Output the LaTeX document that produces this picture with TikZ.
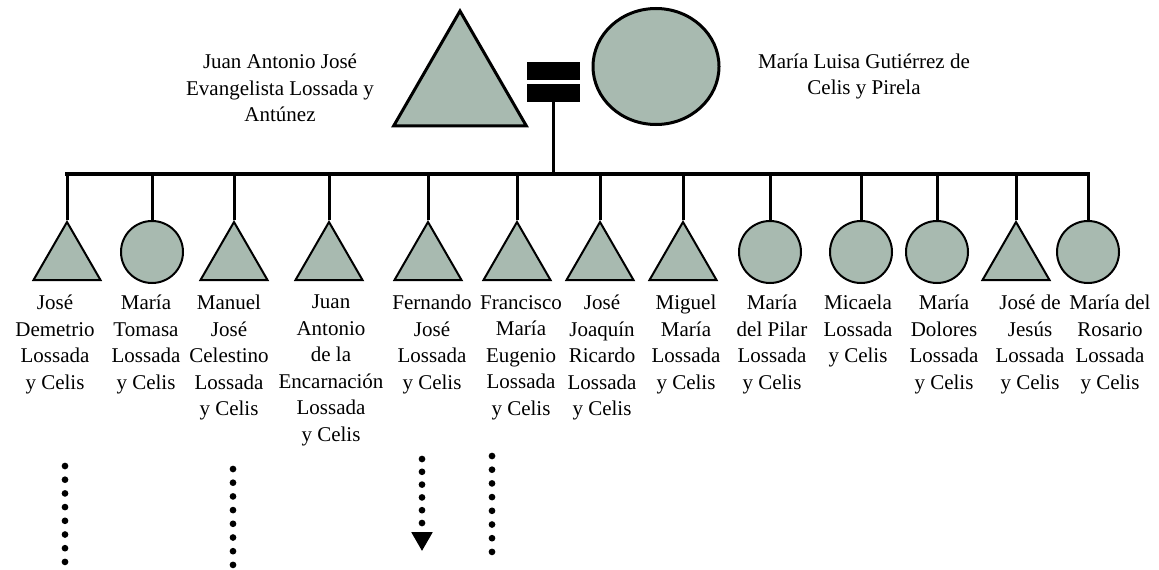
\documentclass[tikz,border=0pt]{standalone}
\usepackage{fontspec}
\setmainfont{Liberation Serif}
\usetikzlibrary{shapes.geometric}
\definecolor{kingreen}{RGB}{168,186,176}
\tikzset{
  male/.style={regular polygon, regular polygon sides=3, draw, fill=kingreen,
    line width=2pt, inner sep=0pt, minimum size=77.4pt, anchor=north},
  female/.style={circle, draw, fill=kingreen, line width=2pt, inner sep=0pt,
    minimum size=62pt, anchor=north},
  kinlabel/.style={align=center, anchor=north, inner sep=0pt,
    font=\fontsize{21}{26.5}\selectfont},
  marriage/.style={fill=black, inner sep=0pt, minimum width=53pt, minimum height=18.5pt},
  drop/.style={line width=3pt},
  descent/.style={line width=6.7pt, line cap=round, dash pattern=on 0pt off 13.7pt},
}
\begin{document}
\begin{tikzpicture}[x=1pt,y=-1pt]
\useasboundingbox (0,0) rectangle (1159,570);
% parents
\node[male, line width=3pt, minimum size=153.3pt] (father) at (460,8) {};
\node[ellipse, draw, fill=kingreen, line width=3pt, inner sep=0pt,
  minimum width=126pt, minimum height=116pt, anchor=north] (mother) at (656,7) {};
\node[kinlabel] (fatherlbl) at (280,54) {Juan Antonio José\\Evangelista Lossada y\\Antúnez};
\node[kinlabel, font=\fontsize{21}{25.5}\selectfont] (motherlbl) at (864,54) {María Luisa Gutiérrez de\\Celis y Pirela};
\node[marriage] (eqtop) at (553.5,71) {};
\node[marriage] (eqbot) at (553.5,92.75) {};
\coordinate (bar) at (553,174);
\draw[drop] (eqbot.south) -- (eqbot.south |- bar);
% children
\foreach \i/\x/\kind/\lx/\name in {
  1/67/male/55/{José\\Demetrio\\Lossada\\y Celis},
  2/152/female/146/{María\\Tomasa\\Lossada\\y Celis},
  3/234/male/229/{Manuel\\José\\Celestino\\Lossada\\y Celis},
  4/329/male/331/{Juan\\Antonio\\de la\\Encarnación\\Lossada\\y Celis},
  5/428/male/432/{Fernando\\José\\Lossada\\y Celis},
  6/517/male/521/{Francisco\\María\\Eugenio\\Lossada\\y Celis},
  7/600/male/602/{José\\Joaquín\\Ricardo\\Lossada\\y Celis},
  8/683/male/686/{Miguel\\María\\Lossada\\y Celis},
  9/770/female/772/{María\\del Pilar\\Lossada\\y Celis},
  10/861/female/858/{Micaela\\Lossada\\y Celis},
  11/937/female/944/{María\\Dolores\\Lossada\\y Celis},
  12/1016/male/1030/{José de\\Jesús\\Lossada\\y Celis},
  13/1088/female/1110/{María del\\Rosario\\Lossada\\y Celis}}{
  \node[\kind] (c\i) at (\x,220) {};
  \node[kinlabel] (l\i) at (\lx,295) {\name};
  \draw[drop] (c\i.north) -- (c\i.north |- bar);
}
\draw[line width=3.5pt, line cap=rect] (c1.north |- bar) -- (c13.north |- bar);
% descendants
\coordinate (d1a) at (65,466);  \coordinate (d1b) at (65,562);
\coordinate (d3a) at (233,469); \coordinate (d3b) at (233,566);
\coordinate (d5a) at (422,459); \coordinate (d5b) at (422,524);
\coordinate (d6a) at (492,456); \coordinate (d6b) at (492,553);
\node[regular polygon, regular polygon sides=3, shape border rotate=180, fill=black,
  inner sep=0pt, minimum size=24.8pt, anchor=north] (d5tip) at (422,532) {};
\draw[descent] (d1a) -- (d1b);
\draw[descent] (d3a) -- (d3b);
\draw[descent, dash pattern=on 0pt off 12.8pt] (d5a) -- (d5b);
\draw[descent] (d6a) -- (d6b);
\end{tikzpicture}
\end{document}
